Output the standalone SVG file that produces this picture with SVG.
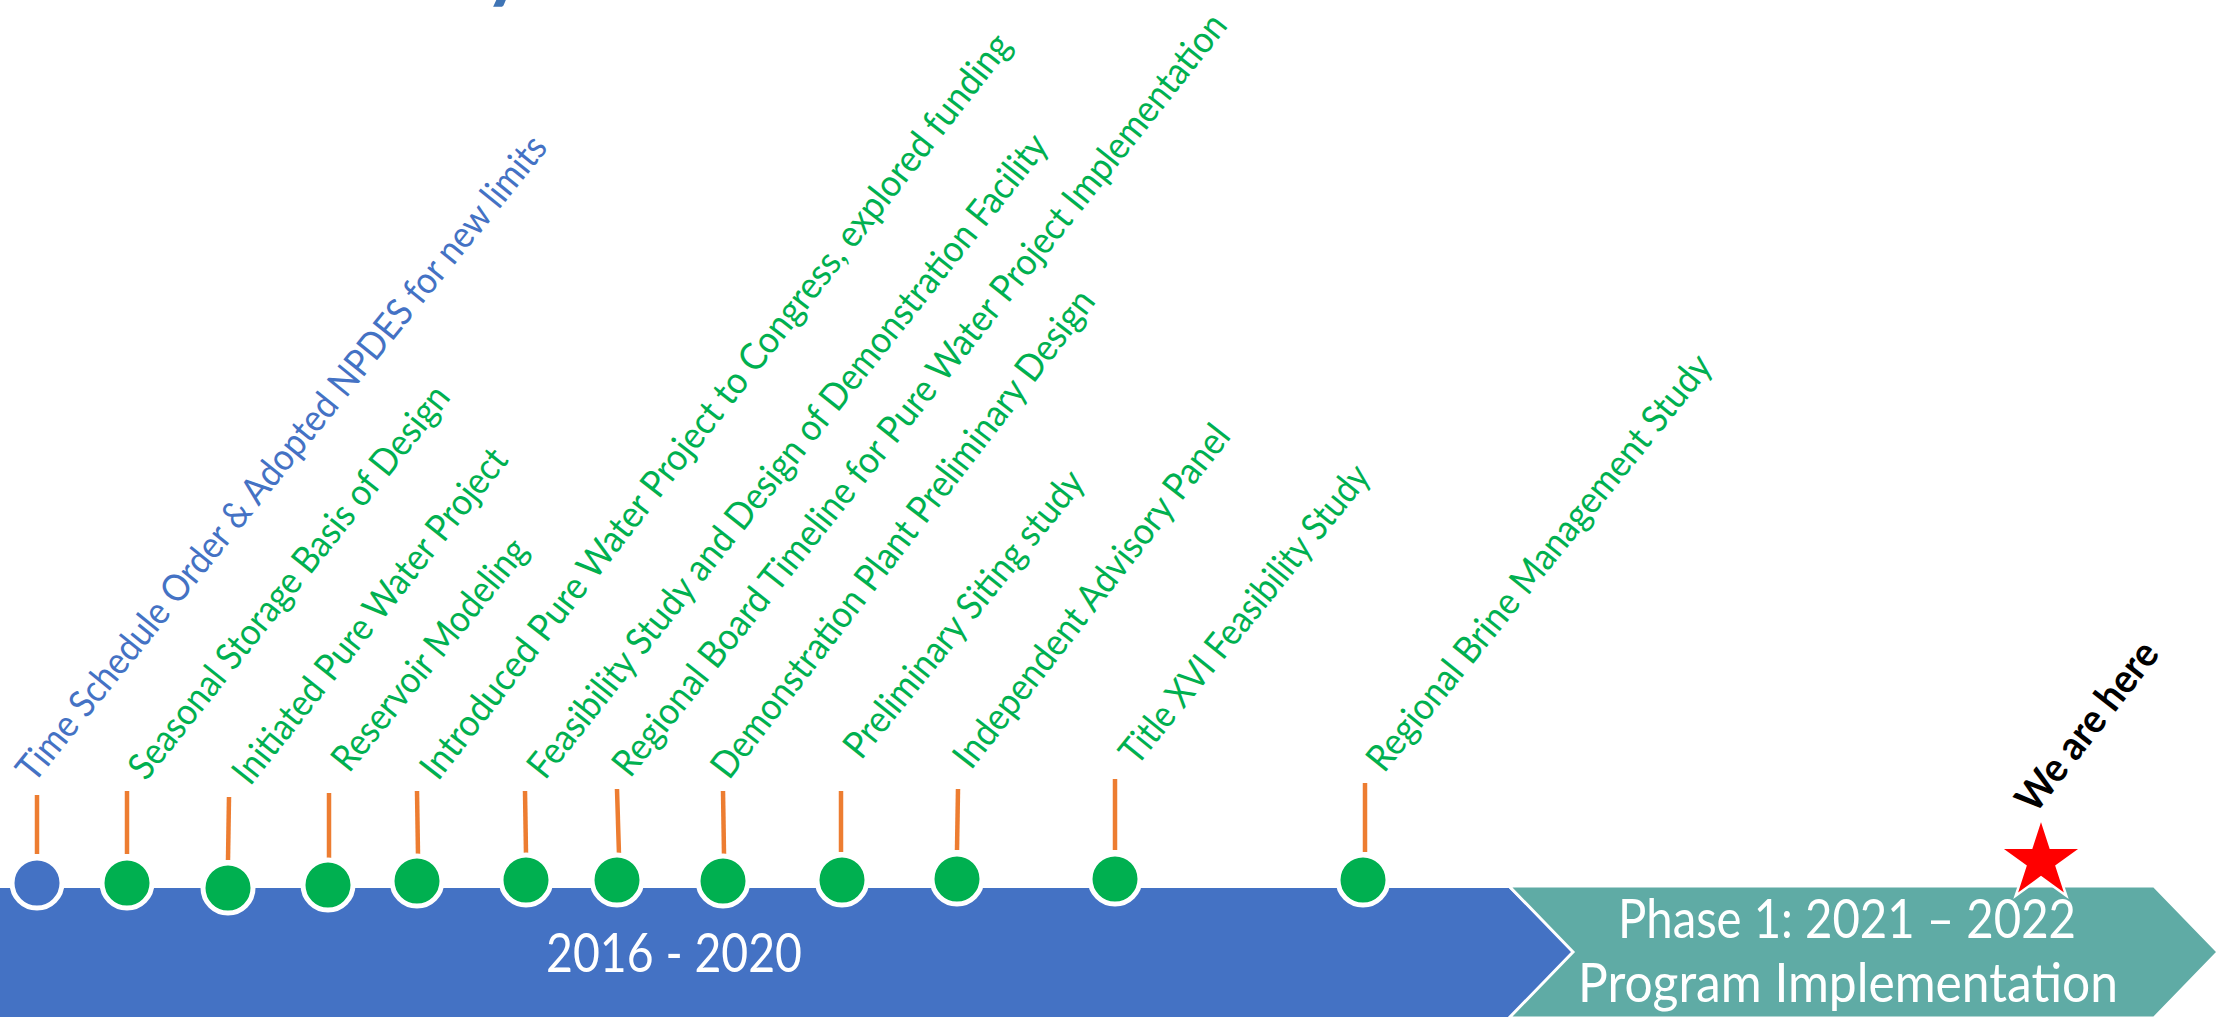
<svg xmlns="http://www.w3.org/2000/svg" width="2233" height="1017" viewBox="0 0 2233 1017">
<style>
.lbl{font-family:Lato,"Liberation Sans",sans-serif;font-size:37.5px}
.gr{fill:#00B050}
.bl{fill:#4472C4}
.stem{stroke:#ED7D31;stroke-width:4.5;fill:none}
.dot{stroke:#FFFFFF;stroke-width:5}
.bar{font-family:Lato,"Liberation Sans",sans-serif;font-size:54px;fill:#FFFFFF;text-anchor:middle}
</style>
<rect x="0" y="0" width="2233" height="1017" fill="#FFFFFF"/>
<text x="484" y="-7" font-family="Lato,'Liberation Sans',sans-serif" font-weight="bold" font-size="80" fill="#3F74B5">y</text>
<g id="phase-2016-2020">
<polygon points="0,888 1509,888 1573,952 1509,1017 0,1017" fill="#4472C4"/>
<text class="bar" x="674" y="972" textLength="256" lengthAdjust="spacingAndGlyphs">2016 - 2020</text>
</g>
<g id="phase-1">
<polygon points="1509,886 2154,886 2218,952 2154,1018 1509,1018 1573,952" fill="#5FABA5" stroke="#FFFFFF" stroke-width="3"/>
<text class="bar" x="1847" y="938" textLength="458" lengthAdjust="spacingAndGlyphs">Phase 1: 2021 – 2022</text>
<text class="bar" x="1848" y="1002" textLength="540" lengthAdjust="spacingAndGlyphs">Program Implementation</text>
</g>
<g id="connectors">
<line class="stem" x1="37" y1="795" x2="37" y2="854"/>
<line class="stem" x1="127" y1="791" x2="127" y2="854"/>
<line class="stem" x1="229" y1="797" x2="228" y2="860"/>
<line class="stem" x1="329" y1="793" x2="329" y2="860"/>
<line class="stem" x1="417" y1="791" x2="418" y2="855"/>
<line class="stem" x1="525" y1="791" x2="526" y2="854"/>
<line class="stem" x1="617" y1="789" x2="619" y2="855"/>
<line class="stem" x1="723" y1="791" x2="724" y2="854"/>
<line class="stem" x1="841" y1="791" x2="841" y2="852"/>
<line class="stem" x1="958" y1="789" x2="957" y2="850"/>
<line class="stem" x1="1115" y1="779" x2="1115" y2="850"/>
<line class="stem" x1="1365" y1="783" x2="1365" y2="852"/>
</g>
<g id="m1"><circle class="dot bl" cx="37" cy="883" r="25"/><text class="lbl bl" transform="translate(34,784) rotate(-51)" textLength="818" lengthAdjust="spacingAndGlyphs">Time Schedule Order &amp; Adopted NPDES for new limits</text></g>
<g id="m2"><circle class="dot gr" cx="127" cy="883" r="25"/><text class="lbl gr" transform="translate(146,782) rotate(-51.5)" textLength="491" lengthAdjust="spacingAndGlyphs">Seasonal Storage Basis of Design</text></g>
<g id="m3"><circle class="dot gr" cx="228" cy="888" r="25"/><text class="lbl gr" transform="translate(250,787) rotate(-51.5)" textLength="417" lengthAdjust="spacingAndGlyphs">Initiated Pure Water Project</text></g>
<g id="m4"><circle class="dot gr" cx="328" cy="885" r="25"/><text class="lbl gr" transform="translate(349,774) rotate(-51)" textLength="287" lengthAdjust="spacingAndGlyphs">Reservoir Modeling</text></g>
<g id="m5"><circle class="dot gr" cx="417" cy="881" r="25"/><text class="lbl gr" transform="translate(438,782) rotate(-52)" textLength="934" lengthAdjust="spacingAndGlyphs">Introduced Pure Water Project to Congress, explored funding</text></g>
<g id="m6"><circle class="dot gr" cx="526" cy="880" r="25"/><text class="lbl gr" transform="translate(545,781) rotate(-51.5)" textLength="811" lengthAdjust="spacingAndGlyphs">Feasibility Study and Design of Demonstration Facility</text></g>
<g id="m7"><circle class="dot gr" cx="617" cy="880" r="25"/><text class="lbl gr" transform="translate(630,779) rotate(-51.5)" textLength="962" lengthAdjust="spacingAndGlyphs">Regional Board Timeline for Pure Water Project Implementation</text></g>
<g id="m8"><circle class="dot gr" cx="723" cy="881" r="25"/><text class="lbl gr" transform="translate(729,781) rotate(-52.5)" textLength="604" lengthAdjust="spacingAndGlyphs">Demonstration Plant Preliminary Design</text></g>
<g id="m9"><circle class="dot gr" cx="842" cy="880" r="25"/><text class="lbl gr" transform="translate(861,761) rotate(-51)" textLength="358" lengthAdjust="spacingAndGlyphs">Preliminary Siting study</text></g>
<g id="m10"><circle class="dot gr" cx="957" cy="879" r="25"/><text class="lbl gr" transform="translate(971,771) rotate(-52)" textLength="424" lengthAdjust="spacingAndGlyphs">Independent Advisory Panel</text></g>
<g id="m11"><circle class="dot gr" cx="1115" cy="879" r="25"/><text class="lbl gr" transform="translate(1137,767) rotate(-51)" textLength="373" lengthAdjust="spacingAndGlyphs">Title XVI Feasibility Study</text></g>
<g id="m12"><circle class="dot gr" cx="1363" cy="880" r="25"/><text class="lbl gr" transform="translate(1384,774) rotate(-51)" textLength="524" lengthAdjust="spacingAndGlyphs">Regional Brine Management Study</text></g>
<g id="we-are-here">
<polygon points="2041,818 2050.6,847.7 2081.9,847.7 2056.6,866.1 2066.3,895.8 2041,877.4 2015.7,895.8 2025.4,866.1 2000.1,847.7 2031.4,847.7" fill="#FF0000" stroke="#FFFFFF" stroke-width="2.5"/>
<text transform="translate(2035,815) rotate(-52)" font-family="Lato,'Liberation Sans',sans-serif" font-weight="bold" font-size="40" fill="#000000" textLength="204" lengthAdjust="spacingAndGlyphs">We are here</text>
</g>
</svg>
